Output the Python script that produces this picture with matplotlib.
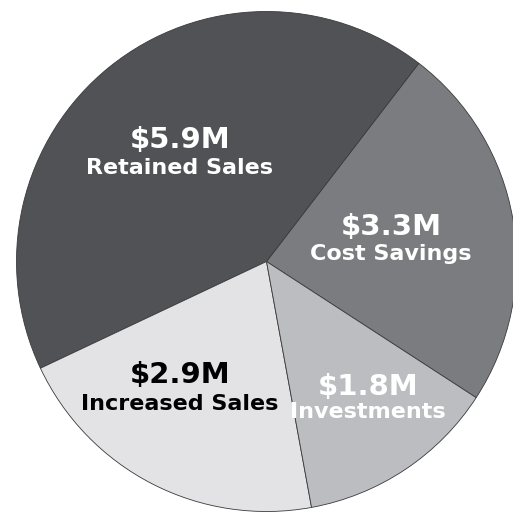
import matplotlib
matplotlib.use("Agg")
import matplotlib.pyplot as plt

# Data (counter-clockwise order starting at the Cost Savings / Investments boundary)
categories = ["Cost Savings", "Retained Sales", "Increased Sales", "Investments"]
values = [3.3, 5.9, 2.9, 1.8]  # $M
colors = ["#7b7c80", "#505256", "#e3e3e6", "#bcbdc0"]
text_colors = ["white", "white", "black", "white"]

W, H = 513, 512
fig = plt.figure(figsize=(W / 100, H / 100), dpi=100)
ax = fig.add_axes([0, 0, 1, 1])

cx, cy, r = 266.5, H - 261.5, 250
ax.pie(values, colors=colors, startangle=-33, counterclock=True,
       center=(cx, cy), radius=r,
       wedgeprops=dict(edgecolor="#3a3a3c", linewidth=0.6))
ax.set_xlim(0, W)
ax.set_ylim(0, H)
ax.set_aspect("equal")
ax.axis("off")

# label positions (image pixel coords: x centre, baseline y of value, baseline y of name)
label_pos = {
    "Retained Sales": (180, 148, 174.5),
    "Cost Savings": (391, 235, 260),
    "Increased Sales": (180, 383, 410),
    "Investments": (368, 395, 418),
}
for cat, val, tc in zip(categories, values, text_colors):
    x, yv, yn = label_pos[cat]
    ax.text(x, H - yv, f"${val:.1f}M", ha="center", va="baseline",
            color=tc, fontsize=21, fontweight="bold", family="DejaVu Sans")
    ax.text(x, H - yn, cat, ha="center", va="baseline",
            color=tc, fontsize=16, fontweight="bold", family="DejaVu Sans")

fig.savefig("out.png", dpi=100, facecolor="white")
